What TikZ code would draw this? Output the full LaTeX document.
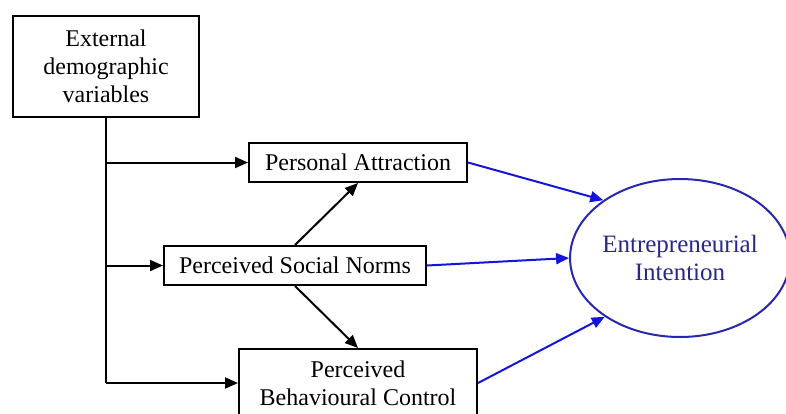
\documentclass[tikz,border=0pt]{standalone}
\usepackage{fontspec}
\setmainfont{Liberation Serif}
\usetikzlibrary{arrows.meta,shapes.geometric}
\definecolor{ellblue}{RGB}{40,40,175}
\definecolor{elltext}{RGB}{40,40,135}
\definecolor{arrblue}{RGB}{20,20,220}
\tikzset{
  box/.style={draw, line width=2pt, inner sep=0pt, align=center, font=\fontsize{24}{28}\selectfont},
  blk/.style={line width=2pt, -{Triangle[length=13pt,width=11pt]}},
  blu/.style={line width=2pt, draw=arrblue, -{Triangle[length=13pt,width=11pt]}, arrblue},
}
\begin{document}
\begin{tikzpicture}[x=1pt,y=-1pt]
\useasboundingbox (0,0) rectangle (786,413);
\node[box, minimum width=186pt, minimum height=101pt] (ext) at (106,66.5) {External\\demographic\\variables};
\node[box, minimum width=218pt, minimum height=39pt] (pa) at (358,162.5) {Personal Attraction};
\node[box, minimum width=262pt, minimum height=39pt] (psn) at (295,265.5) {Perceived Social Norms};
\node[box, minimum width=238pt, minimum height=68pt] (pbc) at (358,383) {Perceived\\Behavioural Control};
\node[ellipse, draw=ellblue, line width=2pt, inner sep=0pt, minimum width=208pt, minimum height=158pt, align=center, text=elltext, font=\fontsize{25}{28}\selectfont] (ei) at (680,258) {Entrepreneurial\\Intention};
\coordinate (c1) at (106,162.5);
\coordinate (c2) at (106,265.5);
\coordinate (c3) at (106,383);
\draw[line width=2pt] (ext.south) -- (c3);
\draw[blk] (c1) -- (pa.west);
\draw[blk] (c2) -- (psn.west);
\draw[blk] (c3) -- (pbc.west);
\draw[blk] (psn.north) -- (pa.south);
\draw[blk] (psn.south) -- (pbc.north);
\draw[blu] (pa.east) -- (ei.143);
\draw[blu] (psn.east) -- (ei.west);
\draw[blu] (pbc.east) -- (ei.218);
\end{tikzpicture}
\end{document}
